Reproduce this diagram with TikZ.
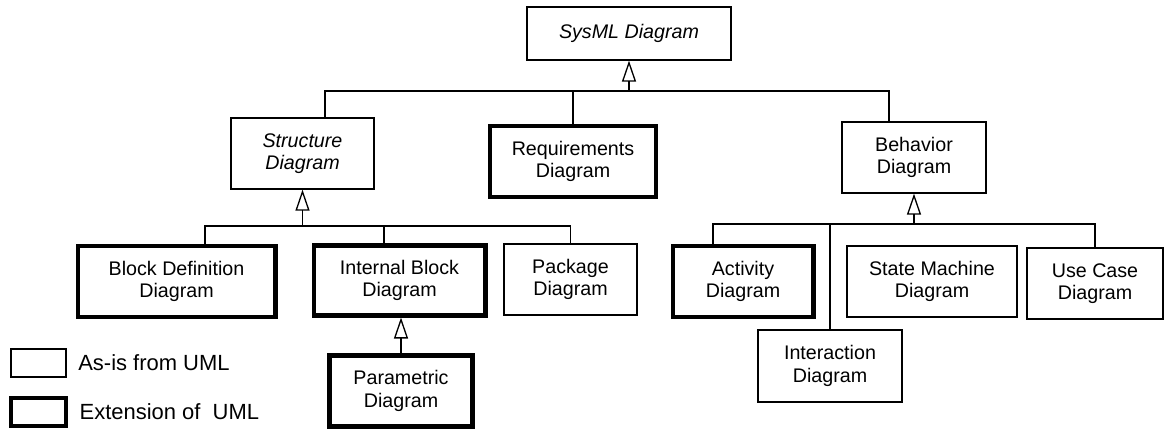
\documentclass[tikz,border=0pt]{standalone}
\usepackage{fontspec}
\setmainfont{Liberation Sans}
\usetikzlibrary{arrows.meta, positioning}

\begin{document}
\begin{tikzpicture}[x=0.02cm,y=-0.02cm,line width=0.75pt,
    diag/.style={draw,line width=0.75pt,align=center,inner sep=0pt,
      minimum height=1.42cm,font=\fontsize{11.2}{12.7}\selectfont},
    abstr/.style={diag,font=\fontsize{11.2}{12.7}\selectfont\itshape},
    ext/.style={diag,line width=2.3pt},
    legtext/.style={inner sep=0pt,font=\fontsize{12.5}{14}\selectfont},
    isa/.style={-{Triangle[open,length=0.42cm,width=0.28cm]}}]
	\useasboundingbox (0,0) rectangle (1165,430);

	% top level
	\node[abstr,minimum width=4.08cm,minimum height=1.06cm] (sysml) at (629,33.5) {SysML Diagram};
	\node[abstr,minimum width=2.86cm] (struct) at (302.5,153.5) {Structure\\Diagram};
	\node[ext,minimum width=3.32cm] (req) at (573,161.5) {Requirements\\Diagram};
	\node[diag,minimum width=2.88cm] (beh) at (914,157.5) {Behavior\\Diagram};

	% structure diagrams
	\node[ext,minimum width=3.96cm] (bdd) at (176.5,281.5) {Block Definition\\Diagram};
	\node[ext,minimum width=3.44cm,minimum height=1.40cm] (ibd) at (399.5,280.5) {Internal Block\\Diagram};
	\node[diag,minimum width=2.66cm] (pkg) at (570.5,279.5) {Package\\Diagram};
	\node[ext,minimum width=2.86cm] (param) at (401,391) {Parametric\\Diagram};

	% behavior diagrams
	\node[ext,minimum width=2.82cm] (act) at (743,281.5) {Activity\\Diagram};
	\node[diag,minimum width=3.40cm] (stm) at (932,281.5) {State Machine\\Diagram};
	\node[diag,minimum width=2.72cm] (uc) at (1095,283.5) {Use Case\\Diagram};
	\node[diag,minimum width=2.88cm,minimum height=1.44cm] (inter) at (830,366) {Interaction\\Diagram};

	% legend
	\node[diag,minimum width=1.10cm,minimum height=0.56cm] (leg1) at (38.5,363) {};
	\node[ext,minimum width=1.10cm,minimum height=0.56cm] (leg2) at (38.5,412) {};
	\node[legtext,right=0.22cm of leg1] (leg1t) {As-is from UML};
	\node[legtext,right=0.22cm of leg2] (leg2t) {Extension of\ \ UML};

	% generalizations
	\coordinate (top) at (629,91);
	\draw[isa] (top) -- (sysml);
	\draw ([xshift=0.45cm]struct.north) |- ([xshift=-0.5cm]beh.north |- top) -- ([xshift=-0.5cm]beh.north);
	\draw (req.north) -- (req.north |- top);

	\coordinate (sbar) at (302.5,226);
	\draw[isa] (sbar) -- (struct);
	\draw ([xshift=0.57cm]bdd.north) |- (pkg.north |- sbar) -- (pkg.north);
	\draw ([xshift=-0.31cm]ibd.north) -- ([xshift=-0.31cm]ibd.north |- sbar);
	\draw[isa] (param.north) -- (param.north |- ibd.south);

	\coordinate (bbar) at (914,224);
	\draw[isa] (bbar) -- (beh);
	\draw ([xshift=-0.6cm]act.north) |- (uc.north |- bbar) -- (uc.north);
	\draw (inter.north) -- (inter.north |- bbar);
\end{tikzpicture}
\end{document}
